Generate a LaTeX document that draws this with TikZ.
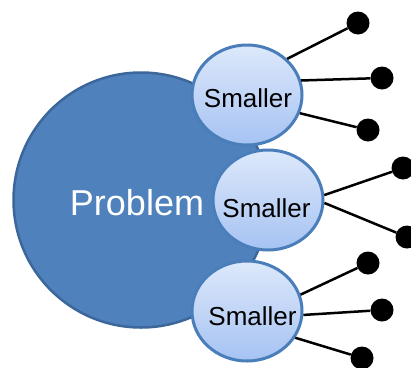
\documentclass[tikz,border=0pt]{standalone}
\usepackage{fontspec}
\setmainfont{Liberation Sans}
\usepackage{tikz}
\usetikzlibrary{shapes.geometric}

\definecolor{probfill}{HTML}{4F81BD}
\definecolor{probline}{HTML}{3C679A}
\definecolor{smtop}{HTML}{DDE8FA}
\definecolor{smbot}{HTML}{A6C3F3}
\definecolor{smline}{HTML}{4A7EBB}

\tikzset{
    probbox/.style={circle, fill=probfill, draw=probline, line width=2.5pt, minimum size=255pt, inner sep=0pt},
    smallbox/.style={ellipse, top color=smtop, bottom color=smbot, draw=smline, line width=3pt, minimum width=110pt, minimum height=100pt, inner sep=0pt},
    dotbox/.style={circle, fill=black, minimum size=23pt, inner sep=0pt},
    link/.style={line width=2.5pt, black}
}

\begin{document}
\begin{tikzpicture}[x=1pt, y=-1pt]
            \useasboundingbox (0,0) rectangle (411,367);

            \node[probbox] (prob) at (141, 200) {};
            \node[text=white, font=\fontsize{36}{40}\selectfont] (probtxt) at (137, 203) {Problem};

            \node[dotbox] (d1) at (358, 23) {};
            \node[dotbox] (d2) at (382, 78) {};
            \node[dotbox] (d3) at (368, 130) {};
            \node[dotbox] (d4) at (403, 168) {};
            \node[dotbox] (d5) at (407, 237) {};
            \node[dotbox] (d6) at (368, 263) {};
            \node[dotbox] (d7) at (382, 310) {};
            \node[dotbox] (d8) at (362, 358) {};

            \node[smallbox] (sm1) at (247, 95) {};
            \node[smallbox] (sm2) at (268, 200) {};
            \node[smallbox] (sm3) at (247, 311) {};

            \node[font=\fontsize{26}{30}\selectfont] (t1) at (248, 98.5) {Smaller};
            \node[font=\fontsize{26}{30}\selectfont] (t2) at (266.5, 208.5) {Smaller};
            \node[font=\fontsize{26}{30}\selectfont] (t3) at (252.5, 316) {Smaller};

            \draw[link] (sm1.42) -- (d1);
            \draw[link] (sm1.15) -- (d2);
            \draw[link] (sm1.-19) -- (d3);
            \draw[link] (sm2.5) -- (d4);
            \draw[link] (sm2.-3) -- (d5);
            \draw[link] (sm3.17) -- (d6);
            \draw[link] (sm3.-4) -- (d7);
            \draw[link] (sm3.-29) -- (d8);
        \end{tikzpicture}
\end{document}
